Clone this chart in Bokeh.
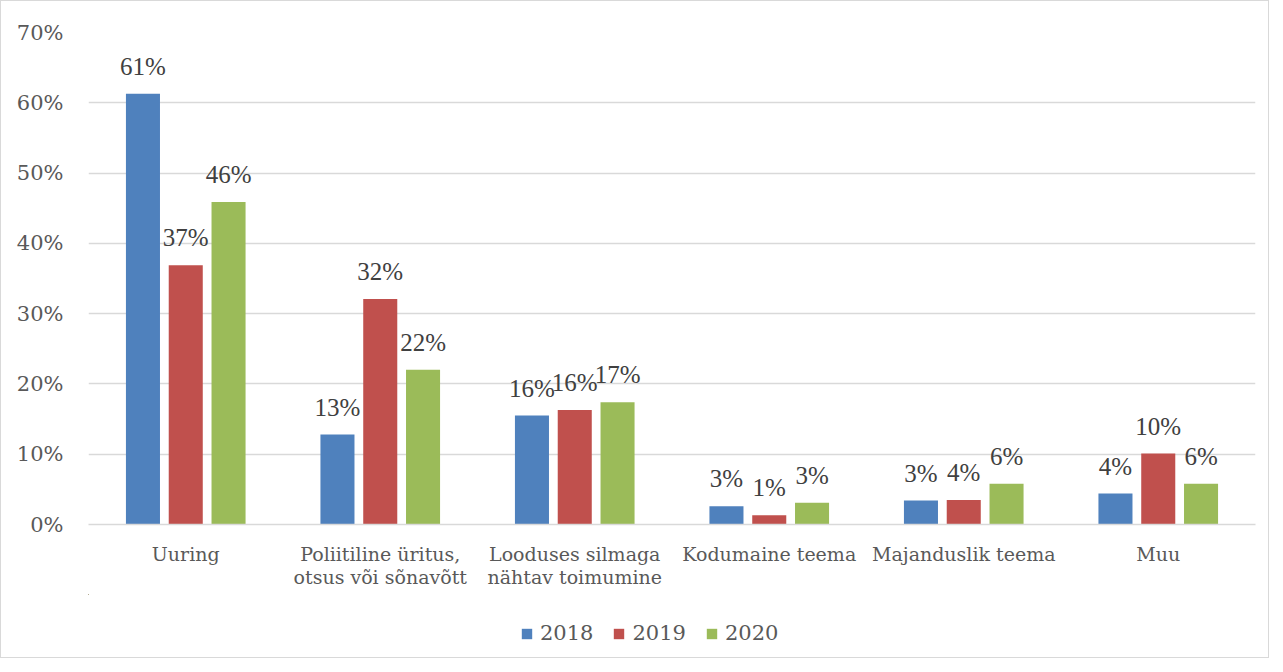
from bokeh.plotting import figure
from bokeh.layouts import column
from bokeh.models import (ColumnDataSource, FixedTicker, Legend, LegendItem,
                          LabelSet, Range1d)
from bokeh.embed import file_html
from bokeh.resources import INLINE

categories = ["Uuring", "Poliitiline üritus,\notsus või sõnavõtt",
              "Looduses silmaga\nnähtav toimumine", "Kodumaine teema",
              "Majanduslik teema", "Muu"]
years = ["2018", "2019", "2020"]
v2018 = [61.3, 12.8, 15.5, 2.6, 3.4, 4.4]
v2019 = [36.9, 32.1, 16.3, 1.3, 3.5, 10.1]
v2020 = [45.9, 22.0, 17.4, 3.1, 5.8, 5.8]
l2018 = ["61%", "13%", "16%", "3%", "3%", "4%"]
l2019 = ["37%", "32%", "16%", "1%", "4%", "10%"]
l2020 = ["46%", "22%", "17%", "3%", "6%", "6%"]
y_ticks = [0, 10, 20, 30, 40, 50, 60, 70]
y_tick_labels = ["0%", "10%", "20%", "30%", "40%", "50%", "60%", "70%"]
colors = ["#4F81BD", "#C0504D", "#9BBB59"]

FONT = "DejaVu Serif"
W = 1267

p = figure(width=W, height=593, output_backend="svg", toolbar_location=None,
           x_range=Range1d(0, len(categories)), y_range=Range1d(0, 70),
           min_border_left=87, min_border_right=13, min_border_top=31,
           min_border_bottom=70)
p.outline_line_color = None

centers = [i + 0.5 for i in range(len(categories))]
offsets = [-0.22, 0.0, 0.22]
series = [v2018, v2019, v2020]
labels = [l2018, l2019, l2020]
sources = []

for k in range(3):
    xs = [c + offsets[k] for c in centers]
    src = ColumnDataSource(dict(x=xs, top=series[k], lab=labels[k]))
    sources.append(src)
    p.vbar(x="x", top="top", bottom=0, width=0.175, source=src,
           fill_color=colors[k], line_color=None)
    ls = LabelSet(x="x", y="top", text="lab", source=src, text_align="center",
                  text_baseline="bottom", y_offset=14, text_font=FONT,
                  text_font_size="25px", text_color="#404040")
    p.add_layout(ls)

p.xgrid.grid_line_color = None
p.ygrid.grid_line_color = "#d9d9d9"
p.ygrid.grid_line_width = 1.5
p.ygrid.ticker = FixedTicker(ticks=y_ticks)

p.xaxis.ticker = FixedTicker(ticks=centers)
p.xaxis.major_label_overrides = {c: lab for c, lab in zip(centers, categories)}
p.xaxis.major_tick_line_color = None
p.xaxis.minor_tick_line_color = None
p.xaxis.axis_line_color = "#d9d9d9"
p.xaxis.axis_line_width = 1.5
p.xaxis.major_label_text_font = FONT
p.xaxis.major_label_text_font_size = "19px"
p.xaxis.major_label_text_color = "#595959"
p.xaxis.major_label_text_line_height = 1.05
p.xaxis.major_label_standoff = 12

p.yaxis.ticker = FixedTicker(ticks=y_ticks)
p.yaxis.major_label_overrides = {t: l for t, l in zip(y_ticks, y_tick_labels)}
p.yaxis.major_tick_line_color = None
p.yaxis.minor_tick_line_color = None
p.yaxis.axis_line_color = None
p.yaxis.major_label_text_font = FONT
p.yaxis.major_label_text_font_size = "21px"
p.yaxis.major_label_text_color = "#595959"
p.yaxis.major_label_standoff = 19

# legend strip (its bars lie far outside its visible range; only the legend shows)
lf = figure(width=W, height=63, output_backend="svg", toolbar_location=None,
            x_range=Range1d(1000, 1006), y_range=Range1d(-2000, -1999),
            x_axis_location=None, y_axis_location=None,
            min_border=0)
lf.outline_line_color = None
lf.xgrid.grid_line_color = None
lf.ygrid.grid_line_color = None
items = []
for k in range(3):
    r = lf.vbar(x="x", top="top", bottom=0, width=0.175, source=sources[k],
                fill_color=colors[k], line_color=None)
    items.append(LegendItem(label=years[k], renderers=[r]))
legend = Legend(items=items, orientation="horizontal", location=(432, 12),
                glyph_width=13, glyph_height=13, label_standoff=7, spacing=19,
                padding=0, margin=0, border_line_color=None,
                background_fill_alpha=0, label_text_font=FONT,
                label_text_font_size="21px", label_text_color="#595959")
lf.add_layout(legend, "center")

layout = column(p, lf, spacing=0)
layout.styles = {"border": "1px solid #d9d9d9", "box-sizing": "border-box"}

open("out.html", "w").write(file_html(layout, INLINE))
